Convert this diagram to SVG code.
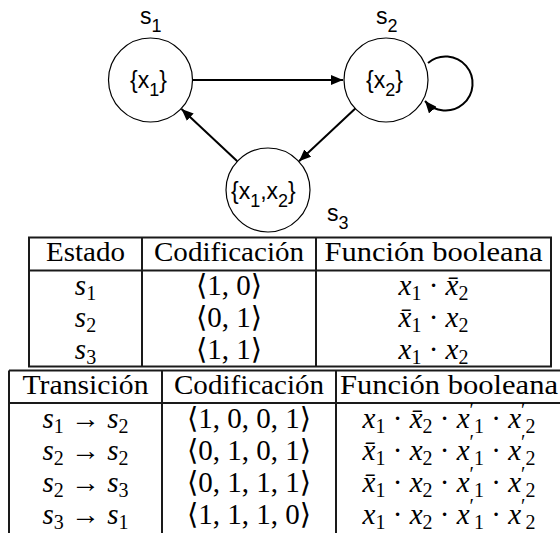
<svg xmlns="http://www.w3.org/2000/svg" width="560" height="533" viewBox="0 0 560 533">
<style>
.node{fill:#fff;stroke:#000;stroke-width:1.2}
.nt{font-family:"Liberation Sans",Arial,sans-serif;font-size:23px;fill:#000}
.sub{font-size:18px}
.edge{stroke:#000;stroke-width:2;fill:none}
.tb{stroke:#1a1a1a;stroke-width:2;fill:none}
.tt{font-family:"Liberation Serif","DejaVu Serif",serif;font-size:28px;fill:#000;text-anchor:middle}
.mt{font-size:29px}
.m{font-style:italic}
.ms{font-size:20px;font-style:normal}
.pr{font-size:20px;font-style:normal}
</style>
<defs>
<marker id="arr" markerUnits="userSpaceOnUse" markerWidth="13" markerHeight="10" refX="12" refY="5" orient="auto">
<path d="M0,0 L12,5 L0,10 z" fill="#000"/>
</marker>
</defs>
<g id="connectors">
<line class="edge" x1="193" y1="80" x2="343" y2="80" marker-end="url(#arr)"/>
<line class="edge" x1="355.3" y1="108.6" x2="299" y2="161.2" marker-end="url(#arr)"/>
<line class="edge" x1="237.3" y1="161.3" x2="181.5" y2="109" marker-end="url(#arr)"/>
<path class="edge" d="M428,63 A27,27 0 1 1 425,101" marker-end="url(#arr)"/>
</g>
<g id="s1">
<circle class="node" cx="150.5" cy="80" r="42"/>
<text class="nt" x="130" y="88">{x<tspan class="sub" dy="8">1</tspan><tspan dy="-8">}</tspan></text>
<text class="nt" x="140" y="24">s<tspan class="sub" dy="8">1</tspan></text>
</g>
<g id="s2">
<circle class="node" cx="386" cy="80" r="42"/>
<text class="nt" x="366" y="88">{x<tspan class="sub" dy="8">2</tspan><tspan dy="-8">}</tspan></text>
<text class="nt" x="376" y="24">s<tspan class="sub" dy="8">2</tspan></text>
</g>
<g id="s3">
<circle class="node" cx="268" cy="190" r="42"/>
<text class="nt" x="231" y="199">{x<tspan class="sub" dy="8">1</tspan><tspan dy="-8">,x</tspan><tspan class="sub" dy="8">2</tspan><tspan dy="-8">}</tspan></text>
<text class="nt" x="327" y="221">s<tspan class="sub" dy="8">3</tspan></text>
</g>
<g id="table1">
<rect class="tb" x="29" y="237.5" width="522" height="129"/>
<line class="tb" x1="29" y1="270.5" x2="551" y2="270.5"/>
<line class="tb" x1="142" y1="237.5" x2="142" y2="366.5"/>
<line class="tb" x1="316" y1="237.5" x2="316" y2="366.5"/>
<text class="tt" x="85.5" y="261" textLength="79" lengthAdjust="spacingAndGlyphs">Estado</text>
<text class="tt" x="229" y="261" textLength="150" lengthAdjust="spacingAndGlyphs">Codificación</text>
<text class="tt" x="433.5" y="261" textLength="218" lengthAdjust="spacingAndGlyphs">Función booleana</text>
<text class="tt mt" x="85.5" y="295"><tspan class="m">s</tspan><tspan class="ms" dy="5">1</tspan></text>
<text class="tt mt" x="85.5" y="327"><tspan class="m">s</tspan><tspan class="ms" dy="5">2</tspan></text>
<text class="tt mt" x="85.5" y="359"><tspan class="m">s</tspan><tspan class="ms" dy="5">3</tspan></text>
<text class="tt mt" x="229" y="295">⟨1, 0⟩</text>
<text class="tt mt" x="229" y="327">⟨0, 1⟩</text>
<text class="tt mt" x="229" y="359">⟨1, 1⟩</text>
<text class="tt mt" x="433.5" y="295"><tspan class="m">x</tspan><tspan class="ms" dy="5">1</tspan><tspan dy="-5"> · </tspan><tspan class="m">x̄</tspan><tspan class="ms" dy="5">2</tspan></text>
<text class="tt mt" x="433.5" y="327"><tspan class="m">x̄</tspan><tspan class="ms" dy="5">1</tspan><tspan dy="-5"> · </tspan><tspan class="m">x</tspan><tspan class="ms" dy="5">2</tspan></text>
<text class="tt mt" x="433.5" y="359"><tspan class="m">x</tspan><tspan class="ms" dy="5">1</tspan><tspan dy="-5"> · </tspan><tspan class="m">x</tspan><tspan class="ms" dy="5">2</tspan></text>
</g>
<g id="table2">
<line class="tb" x1="9" y1="370.5" x2="562" y2="370.5"/>
<line class="tb" x1="9" y1="403" x2="562" y2="403"/>
<line class="tb" x1="9" y1="370.5" x2="9" y2="540"/>
<line class="tb" x1="162" y1="370.5" x2="162" y2="540"/>
<line class="tb" x1="336" y1="370.5" x2="336" y2="540"/>
<line class="tb" x1="562" y1="370.5" x2="562" y2="540"/>
<text class="tt" x="85.5" y="394" textLength="126" lengthAdjust="spacingAndGlyphs">Transición</text>
<text class="tt" x="249" y="394" textLength="150" lengthAdjust="spacingAndGlyphs">Codificación</text>
<text class="tt" x="449" y="394" textLength="218" lengthAdjust="spacingAndGlyphs">Función booleana</text>
<text class="tt mt" x="85.5" y="428"><tspan class="m">s</tspan><tspan class="ms" dy="5">1</tspan><tspan dy="-5"> → </tspan><tspan class="m">s</tspan><tspan class="ms" dy="5">2</tspan></text>
<text class="tt mt" x="85.5" y="460"><tspan class="m">s</tspan><tspan class="ms" dy="5">2</tspan><tspan dy="-5"> → </tspan><tspan class="m">s</tspan><tspan class="ms" dy="5">2</tspan></text>
<text class="tt mt" x="85.5" y="492"><tspan class="m">s</tspan><tspan class="ms" dy="5">2</tspan><tspan dy="-5"> → </tspan><tspan class="m">s</tspan><tspan class="ms" dy="5">3</tspan></text>
<text class="tt mt" x="85.5" y="524"><tspan class="m">s</tspan><tspan class="ms" dy="5">3</tspan><tspan dy="-5"> → </tspan><tspan class="m">s</tspan><tspan class="ms" dy="5">1</tspan></text>
<text class="tt mt" x="249" y="428">⟨1, 0, 0, 1⟩</text>
<text class="tt mt" x="249" y="460">⟨0, 1, 0, 1⟩</text>
<text class="tt mt" x="249" y="492">⟨0, 1, 1, 1⟩</text>
<text class="tt mt" x="249" y="524">⟨1, 1, 1, 0⟩</text>
<text class="tt mt" x="449" y="428"><tspan class="m">x</tspan><tspan class="ms" dy="5">1</tspan><tspan dy="-5"> · </tspan><tspan class="m">x̄</tspan><tspan class="ms" dy="5">2</tspan><tspan dy="-5"> · </tspan><tspan class="m">x</tspan><tspan class="pr" dy="-11">′</tspan><tspan class="ms" dy="16">1</tspan><tspan dy="-5"> · </tspan><tspan class="m">x</tspan><tspan class="pr" dy="-11">′</tspan><tspan class="ms" dy="16">2</tspan></text>
<text class="tt mt" x="449" y="460"><tspan class="m">x̄</tspan><tspan class="ms" dy="5">1</tspan><tspan dy="-5"> · </tspan><tspan class="m">x</tspan><tspan class="ms" dy="5">2</tspan><tspan dy="-5"> · </tspan><tspan class="m">x</tspan><tspan class="pr" dy="-11">′</tspan><tspan class="ms" dy="16">1</tspan><tspan dy="-5"> · </tspan><tspan class="m">x</tspan><tspan class="pr" dy="-11">′</tspan><tspan class="ms" dy="16">2</tspan></text>
<text class="tt mt" x="449" y="492"><tspan class="m">x̄</tspan><tspan class="ms" dy="5">1</tspan><tspan dy="-5"> · </tspan><tspan class="m">x</tspan><tspan class="ms" dy="5">2</tspan><tspan dy="-5"> · </tspan><tspan class="m">x</tspan><tspan class="pr" dy="-11">′</tspan><tspan class="ms" dy="16">1</tspan><tspan dy="-5"> · </tspan><tspan class="m">x</tspan><tspan class="pr" dy="-11">′</tspan><tspan class="ms" dy="16">2</tspan></text>
<text class="tt mt" x="449" y="524"><tspan class="m">x</tspan><tspan class="ms" dy="5">1</tspan><tspan dy="-5"> · </tspan><tspan class="m">x</tspan><tspan class="ms" dy="5">2</tspan><tspan dy="-5"> · </tspan><tspan class="m">x</tspan><tspan class="pr" dy="-11">′</tspan><tspan class="ms" dy="16">1</tspan><tspan dy="-5"> · </tspan><tspan class="m">x</tspan><tspan class="pr" dy="-11">′</tspan><tspan class="ms" dy="16">2</tspan></text>
</g>
</svg>
